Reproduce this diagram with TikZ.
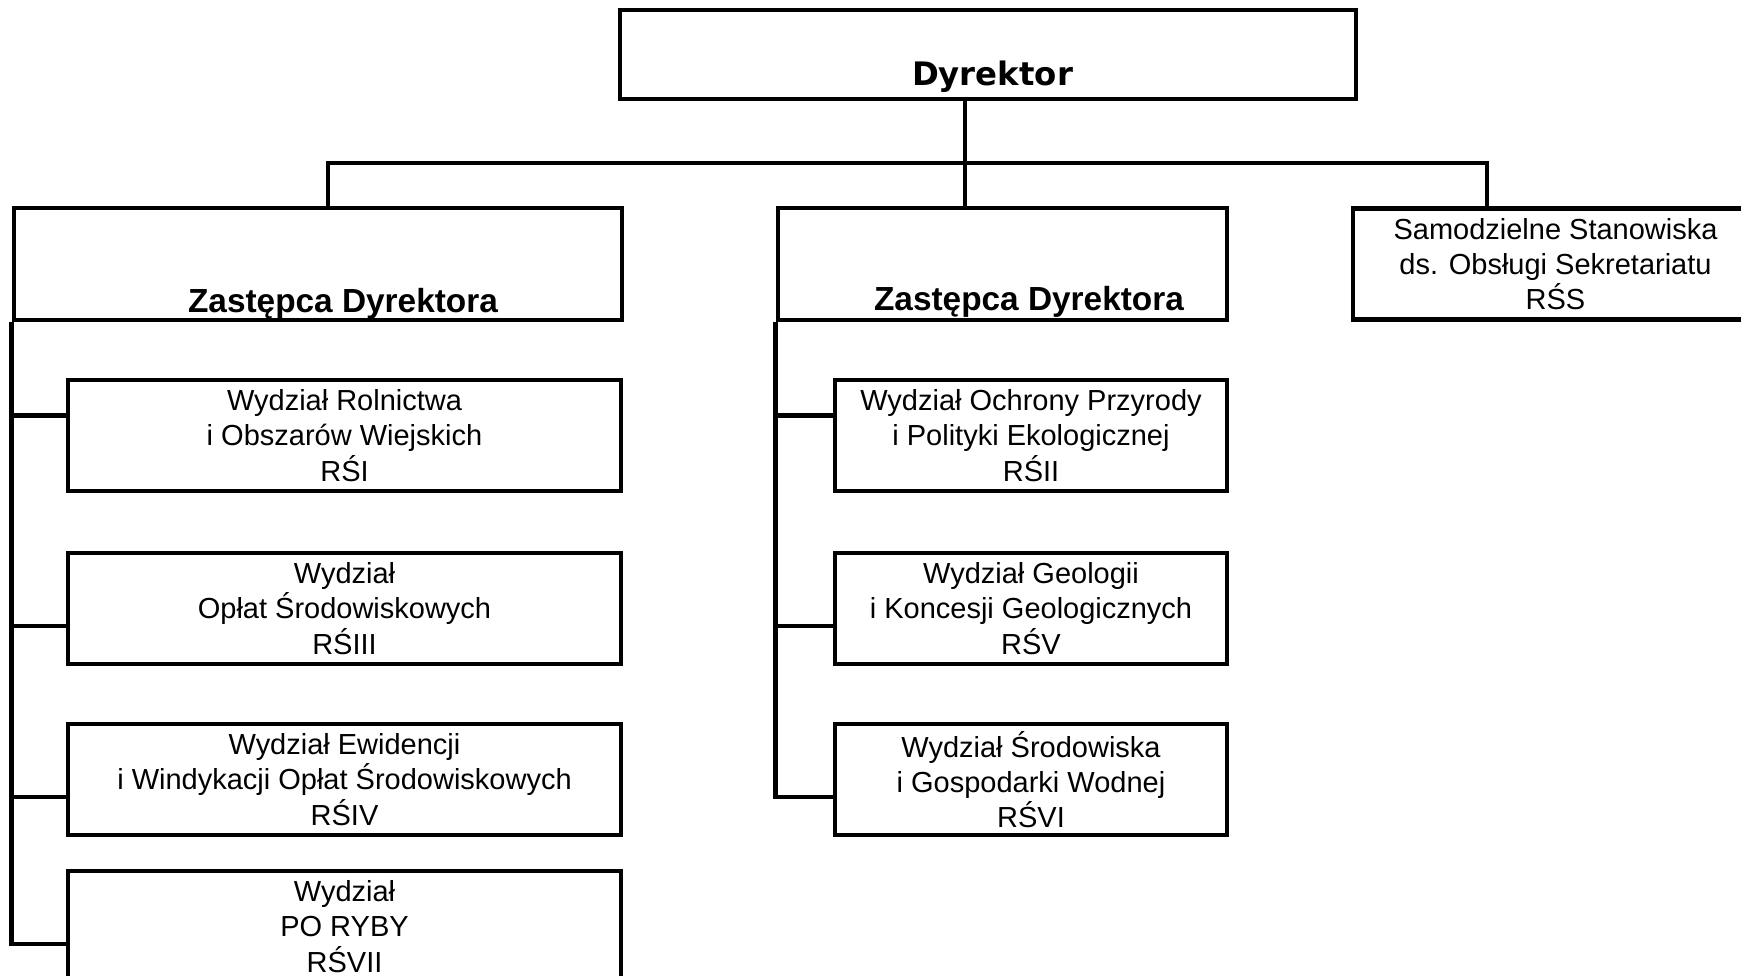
\documentclass[tikz,border=0pt]{standalone}
\usepackage{fontspec}
\setmainfont{Liberation Sans}
\newfontfamily\dyrfont{DejaVu Sans}
\usetikzlibrary{positioning}

\begin{document}
\begin{tikzpicture}[line width=1.3pt, line join=miter,
  zbox/.style={draw, rectangle, inner sep=0pt, minimum height=1.12cm},
  wbox/.style={draw, rectangle, inner sep=0pt, align=center, minimum height=1.11cm,
    font=\fontsize{8.25}{10}\selectfont},
  head/.style={anchor=base, inner sep=0pt, font=\fontsize{9.5}{11}\selectfont\bfseries}]
  \useasboundingbox (0,0) rectangle (17.41,-9.75);
  \clip (0,0) rectangle (17.41,-9.75);

  \node[zbox, minimum width=7.36cm, minimum height=0.89cm] (dyr) at (9.88,-0.545) {};
  \node[head, font=\fontsize{9.2}{11}\selectfont\dyrfont\bfseries] (dyr_t)
    at ([xshift=0.45mm,yshift=1.6mm]dyr.south) {Dyrektor};

  \node[zbox, minimum width=6.08cm] (zd_1) at (3.18,-2.64) {};
  \node[head] (zd_1t) at ([xshift=2.5mm,yshift=1mm]zd_1.south) {Zastępca Dyrektora};
  \node[zbox, minimum width=4.49cm] (zd_2) at (10.025,-2.64) {};
  \node[head] (zd_2t) at ([xshift=2.65mm,yshift=1.2mm]zd_2.south) {Zastępca Dyrektora};
  \node[wbox, minimum width=4.05cm] (rss) at (15.555,-2.64)
    {Samodzielne Stanowiska\\ds. Obsługi Sekretariatu\\RŚS};

  \node[wbox, minimum width=5.53cm] (w_1) at (3.445,-4.355) {Wydział Rolnictwa\\i Obszarów Wiejskich\\RŚI};
  \node[wbox, minimum width=5.53cm] (w_3) at (3.445,-6.085) {Wydział\\Opłat Środowiskowych\\RŚIII};
  \node[wbox, minimum width=5.53cm] (w_4) at (3.445,-7.795) {Wydział Ewidencji\\i Windykacji Opłat Środowiskowych\\RŚIV};
  \node[wbox, minimum width=5.53cm] (w_7) at (3.445,-9.265) {Wydział\\PO RYBY\\RŚVII};

  \node[wbox, minimum width=3.92cm] (w_2) at (10.31,-4.355) {Wydział Ochrony Przyrody\\i Polityki Ekologicznej\\RŚII};
  \node[wbox, minimum width=3.92cm] (w_5) at (10.31,-6.085) {Wydział Geologii\\i Koncesji Geologicznych\\RŚV};
  \node[wbox, minimum width=3.92cm] (w_6) at (10.31,-7.795) {Wydział Środowiska\\i Gospodarki Wodnej\\RŚVI};

  \coordinate (b_l) at (3.28,-1.63);
  \coordinate (b_m) at (9.65,-1.63);
  \coordinate (b_r) at (14.87,-1.63);
  \draw (b_m |- dyr.south) -- (b_m |- zd_2.north);
  \draw (b_l |- zd_1.north) -- (b_l) -- (b_r) -- (b_r |- rss.north);

  \draw (zd_1.south west) |- ([yshift=2mm]w_1.west);
  \draw (zd_1.south west) |- ([yshift=-1.75mm]w_3.west);
  \draw (zd_1.south west) |- ([yshift=-1.75mm]w_4.west);
  \draw (zd_1.south west) |- ([yshift=-1.75mm]w_7.west);
  \draw (zd_2.south west) |- ([yshift=2mm]w_2.west);
  \draw (zd_2.south west) |- ([yshift=-1.75mm]w_5.west);
  \draw (zd_2.south west) |- ([yshift=-1.75mm]w_6.west);
\end{tikzpicture}
\end{document}
